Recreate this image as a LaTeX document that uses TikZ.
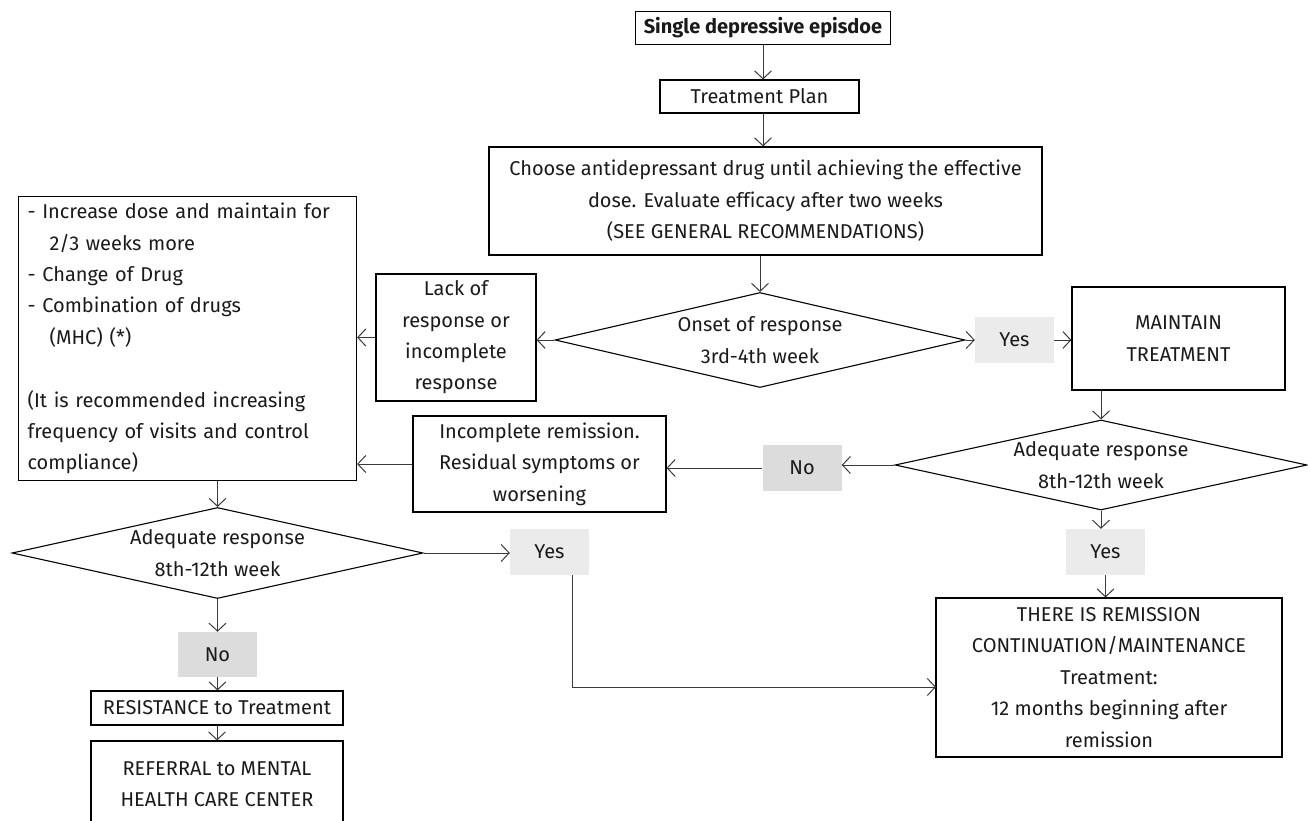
\documentclass[tikz,border=0pt]{standalone}
\usepackage{fontspec}
\setmainfont{Fira Sans}[Ligatures=NoCommon]
\usetikzlibrary{shapes.geometric,arrows.meta}

\definecolor{ink}{HTML}{1A1A1A}
\definecolor{wire}{HTML}{3A3A3A}
\definecolor{yesfill}{HTML}{EBEBEB}
\definecolor{nofill}{HTML}{DCDCDC}

\tikzset{
  txt/.style={font=\fontsize{20}{31.4}\selectfont, text=ink},
  box/.style={txt, draw=black, line width=1.1pt, align=center, inner sep=0pt},
  decision/.style={txt, draw=black, line width=1.1pt, diamond, aspect=4.4, align=center, inner sep=0pt},
  answer/.style={txt, inner sep=0pt, minimum width=79pt, minimum height=46pt},
  yesbox/.style={answer, fill=yesfill},
  nobox/.style={answer, fill=nofill},
  arr/.style={draw=wire, line width=1pt, -{Straight Barb[length=8pt,width=17pt,line width=1pt]}},
}

\begin{document}
\begin{tikzpicture}[x=1pt,y=-1pt]
\useasboundingbox (0,0) rectangle (1308,821);

% main column
\node[box, minimum width=255pt, minimum height=33pt] (single) at (763,28) {\textbf{Single depressive episdoe}};
\node[box, minimum width=199pt, minimum height=33pt] (plan) at (759.5,96.5) {Treatment Plan};
\node[box, minimum width=553pt, minimum height=108pt] (choose) at (765.5,201)
  {Choose antidepressant drug until achieving the effective\\dose. Evaluate efficacy after two weeks\\(SEE GENERAL RECOMMENDATIONS)};
\node[decision, minimum width=410pt, minimum height=95pt] (d1) at (760,340) {Onset of response\\3rd-4th week};

% lack of response branch
\node[box, minimum width=160pt, minimum height=127pt] (lack) at (456,337.5)
  {Lack of\\response or\\incomplete\\response};
\node[box, anchor=north west, minimum width=338pt, minimum height=284pt, align=left,
      text width=320pt, inner xsep=9pt] (big) at (18,196)
  {- Increase dose and maintain for\\
   \hspace*{22pt}2/3 weeks more\\
   - Change of Drug\\
   - Combination of drugs\\
   \hspace*{22pt}(MHC) (*)\\
   \mbox{}\\
   (It is recommended increasing\\
   frequency of visits and control\\
   compliance)};

% maintain branch
\node[yesbox] (yes1) at (1014.5,340) {Yes};
\node[box, minimum width=213pt, minimum height=103pt] (maint) at (1178.5,338.5) {MAINTAIN\\TREATMENT};
\node[decision, minimum width=412pt, minimum height=90pt] (d2) at (1101,465) {Adequate response\\8th-12th week};
\node[nobox] (no2) at (802,468) {No};
\node[box, minimum width=253pt, minimum height=96pt] (incomp) at (539.5,464)
  {Incomplete remission.\\Residual symptoms or\\worsening};
\node[yesbox] (yes2) at (1105.5,552) {Yes};
\node[box, minimum width=346pt, minimum height=159pt] (remis) at (1109,677.5)
  {THERE IS REMISSION\\CONTINUATION/MAINTENANCE\\Treatment:\\12 months beginning after\\remission};

% left lower column
\node[decision, minimum width=411pt, minimum height=91pt] (d3) at (217.5,553) {Adequate response\\8th-12th week};
\node[yesbox] (yes3) at (549.5,552) {Yes};
\node[nobox, minimum height=45pt] (no3) at (217.5,654.5) {No};
\node[box, minimum width=252pt, minimum height=34pt] (resist) at (217,708) {RESISTANCE to Treatment};
\node[box, minimum width=252pt, minimum height=86pt] (refer) at (217,784) {REFERRAL to MENTAL\\HEALTH CARE CENTER};

\coordinate (y3out) at (572,575);
\coordinate (remisin) at (936,687);

% connectors
\draw[arr] (single) -- (plan.north -| single);
\draw[arr] (plan.south -| single) -- (choose.north -| single);
\draw[arr] (choose.south -| d1.north) -- (d1.north);
\draw[arr] (d1.west) -- (d1.west -| lack.east);
\draw[arr] (d1.east) -- (yes1.west);
\draw[arr] (yes1.east) -- (maint.west |- yes1.east);
\draw[arr] (lack.west) -- (lack.west -| big.east);
\draw[arr] (maint.south -| d2.north) -- (d2.north);
\draw[arr] (d2.west) -- (no2.east |- d2.west);
\draw[arr] (no2.west) -- (incomp.east |- no2.west);
\draw[arr] (incomp.west) -- (incomp.west -| big.east);
\draw[arr] (d2.south) -- (yes2.north -| d2.south);
\draw[arr] (yes2.south) -- (remis.north -| yes2.south);
\draw[arr] (big.south -| d3.north) -- (d3.north);
\draw[arr] (d3.east) -- (yes3.west |- d3.east);
\draw[arr] (y3out) |- (remisin);
\draw[arr] (d3.south) -- (no3.north);
\draw[arr] (no3.south) -- (resist.north -| no3.south);
\draw[arr] (resist.south) -- (refer.north -| resist.south);
\end{tikzpicture}
\end{document}
